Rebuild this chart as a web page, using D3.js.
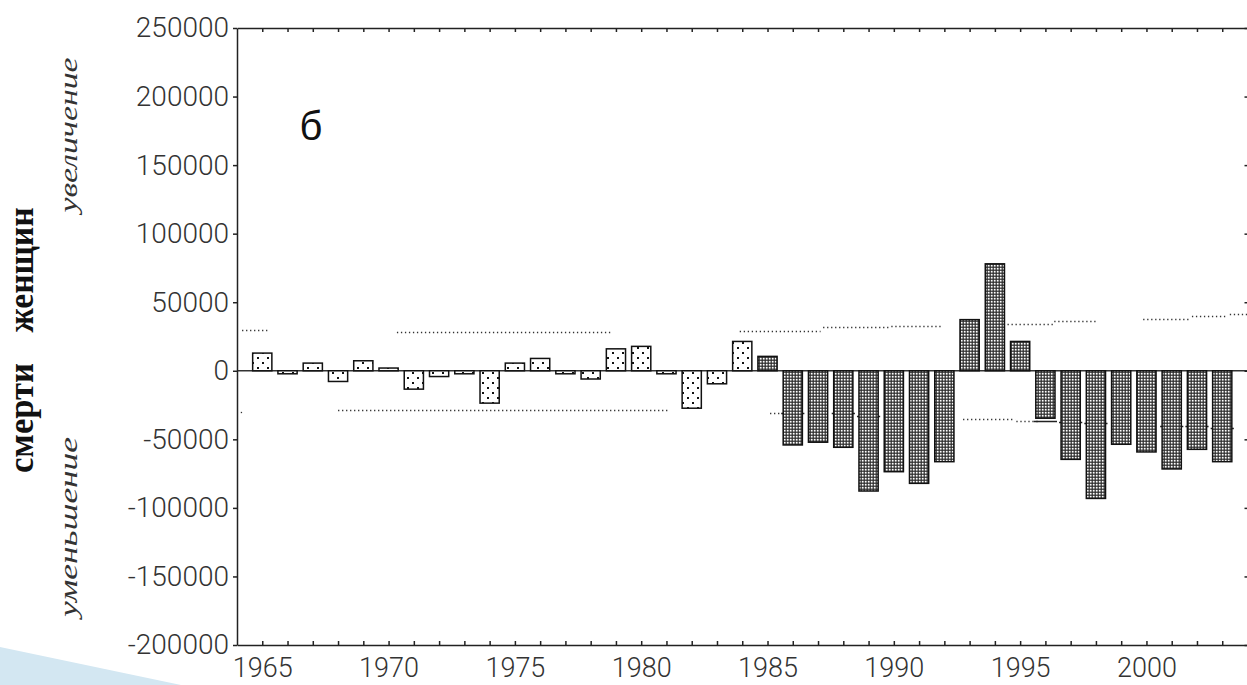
<!DOCTYPE html>
<html>
<head>
<meta charset="utf-8">
<script src="https://cdn.jsdelivr.net/npm/d3@7"></script>
<style>
body { margin: 0; background: #fff; }
svg { display: block; }
</style>
</head>
<body>
<svg id="chart" width="1247" height="685"></svg>
<script>
// yearly change, deaths of women
const years = [1965, 1966, 1967, 1968, 1969, 1970, 1971, 1972, 1973, 1974,
  1975, 1976, 1977, 1978, 1979, 1980, 1981, 1982, 1983, 1984,
  1985, 1986, 1987, 1988, 1989, 1990, 1991, 1992, 1993, 1994,
  1995, 1996, 1997, 1998, 1999, 2000, 2001, 2002, 2003];
const values = [12900, -2200, 5600, -7800, 7300, 2000, -13400, -4200, -2200, -23600,
  5600, 9000, -2200, -6000, 16000, 17800, -2200, -27300, -9500, 21400,
  10500, -54100, -52100, -55800, -87700, -73600, -82100, -66300, 37300, 78000,
  21400, -34600, -64600, -93100, -53600, -59200, -71600, -57300, -66300];
const darkFromYear = 1985;

// dotted limit lines: [from year, to year, value]
const upperLimits = [[1964.2, 1965.2, 30000], [1970.33, 1978.85, 28000],
  [1983.9, 1987.1, 28700], [1987.2, 1989.8, 31700], [1989.9, 1991.9, 33000],
  [1994.5, 1996.3, 34100], [1996.35, 1998.05, 36000],
  [1999.87, 2001.7, 37800], [2001.8, 2003.2, 39700], [2003.3, 2004, 41400]];
const lowerLimits = [[1964.15, 1964.3, -30000], [1968.0, 1981.1, -28500],
  [1985.1, 1985.6, -31000], [1992.74, 1994.8, -34900], [1994.85, 1995.8, -36500]];
// limit marks mostly hidden behind the dark bars
const markYears = [1986, 1988, 1989, 1996, 1997, 1998, 2001, 2002, 2003];
const markValues = [-31000, -31000, -33000, -36500, -37500, -38000, -40200, -40200, -41700];

const yTicks = [250000, 200000, 150000, 100000, 50000, 0, -50000, -100000, -150000, -200000];
const xLabelYears = [1965, 1970, 1975, 1980, 1985, 1990, 1995, 2000];

const svg = d3.select('#chart');
const x = d3.scaleLinear().domain([1964, 2004]).range([237, 1247.5]);
const y = d3.scaleLinear().domain([-200000, 250000]).range([645, 28]);
const barW = (x(1965) - x(1964)) * 0.76;
const ink = '#222';

// slide decoration in the corner
svg.append('path')
  .attr('d', 'M0,647 L181,685 L0,685 Z')
  .attr('fill', '#d3e7f2');

const defs = svg.append('defs');
const light = defs.append('pattern').attr('id', 'light')
  .attr('patternUnits', 'userSpaceOnUse').attr('width', 10).attr('height', 10);
light.append('rect').attr('width', 10).attr('height', 10).attr('fill', '#fff');
light.append('rect').attr('x', 2).attr('y', 2).attr('width', 2).attr('height', 2).attr('fill', '#111');
light.append('rect').attr('x', 7).attr('y', 7).attr('width', 2).attr('height', 2).attr('fill', '#111');

const dark = defs.append('pattern').attr('id', 'dark')
  .attr('patternUnits', 'userSpaceOnUse').attr('width', 3).attr('height', 3);
dark.append('rect').attr('width', 3).attr('height', 3).attr('fill', '#2a2a2a');
dark.append('rect').attr('x', 0.8).attr('y', 0.8).attr('width', 1.8).attr('height', 1.8).attr('fill', '#fff');

// limit lines, under the bars
svg.append('g')
  .selectAll('line')
  .data(upperLimits.concat(lowerLimits))
  .join('line')
  .attr('x1', d => x(d[0]))
  .attr('x2', d => x(d[1]))
  .attr('y1', d => Math.round(y(d[2])) + 0.5)
  .attr('y2', d => Math.round(y(d[2])) + 0.5)
  .attr('stroke', '#333')
  .attr('stroke-width', 1.3)
  .attr('stroke-dasharray', '1.3,2.7');

svg.append('g')
  .selectAll('line')
  .data(markYears)
  .join('line')
  .attr('x1', d => x(d) - barW / 2 - 2)
  .attr('x2', d => x(d) + barW / 2 + 2)
  .attr('y1', (d, i) => Math.round(y(markValues[i])) + 0.5)
  .attr('y2', (d, i) => Math.round(y(markValues[i])) + 0.5)
  .attr('stroke', ink)
  .attr('stroke-width', 1.5);

// zero line
svg.append('line')
  .attr('x1', x(1964)).attr('x2', x(2004))
  .attr('y1', y(0)).attr('y2', y(0))
  .attr('stroke', '#333').attr('stroke-width', 1.5);

// bars
svg.append('g')
  .selectAll('rect')
  .data(years)
  .join('rect')
  .attr('x', d => x(d) - barW / 2)
  .attr('y', (d, i) => y(Math.max(0, values[i])))
  .attr('width', barW)
  .attr('height', (d, i) => Math.abs(y(values[i]) - y(0)))
  .attr('fill', d => d >= darkFromYear ? 'url(#dark)' : 'url(#light)')
  .attr('stroke', '#111')
  .attr('stroke-width', 1.5);

// axes
const styleAxis = (g, size) => {
  g.selectAll('path, line').attr('stroke', ink).attr('stroke-width', 1.5);
  g.selectAll('text')
    .attr('fill', '#333')
    .style('font-family', 'Roboto, "Liberation Sans", sans-serif')
    .style('font-weight', 300)
    .style('font-size', (size || 28) + 'px');
};

svg.append('g')
  .attr('transform', 'translate(237,0)')
  .call(d3.axisLeft(y).tickValues(yTicks).tickSize(4).tickSizeOuter(0).tickPadding(4)
    .tickFormat(d => String(d)))
  .call(styleAxis);

svg.append('g')
  .attr('transform', 'translate(1247.5,0)')
  .call(d3.axisLeft(y).tickValues(yTicks).tickSize(3).tickFormat(''))
  .call(g => g.select('.domain').remove())
  .call(styleAxis);

svg.append('g')
  .attr('transform', 'translate(0,645)')
  .call(d3.axisBottom(x).tickValues(years).tickSize(-4).tickSizeOuter(0).tickFormat(''))
  .call(styleAxis);

svg.append('g')
  .attr('transform', 'translate(0,645)')
  .call(d3.axisBottom(x).tickValues(xLabelYears).tickSize(0).tickPadding(13)
    .tickFormat(d => String(d)))
  .call(g => g.select('.domain').remove())
  .call(g => styleAxis(g, 27));

svg.append('g')
  .attr('transform', 'translate(0,28)')
  .call(d3.axisTop(x).tickValues(years).tickSize(-4).tickSizeOuter(0).tickFormat(''))
  .call(styleAxis);

// panel letter
svg.append('text')
  .attr('x', 311).attr('y', 140)
  .attr('text-anchor', 'middle')
  .style('font-family', '"Liberation Sans", Arial, sans-serif')
  .style('font-size', '40px')
  .attr('fill', '#111')
  .text('б');

// rotated titles on the left
const rotated = (cx, cy, txt, len, size, bold, italic) => {
  svg.append('text')
    .attr('transform', `translate(${cx},${cy}) rotate(-90)`)
    .attr('text-anchor', 'middle')
    .attr('textLength', len)
    .attr('lengthAdjust', 'spacingAndGlyphs')
    .style('font-family', '"Liberation Serif", "Times New Roman", serif')
    .style('font-size', size + 'px')
    .style('font-weight', bold ? 'bold' : 'normal')
    .style('font-style', italic ? 'italic' : 'normal')
    .attr('fill', bold ? '#111' : '#333')
    .text(txt);
};
rotated(33, 418, 'смерти', 110, 36, true, false);
rotated(33, 270, 'женщин', 125, 36, true, false);
rotated(77, 135, 'увеличение', 155, 26, false, true);
rotated(77, 527, 'уменьшение', 180, 26, false, true);
</script>
</body>
</html>
